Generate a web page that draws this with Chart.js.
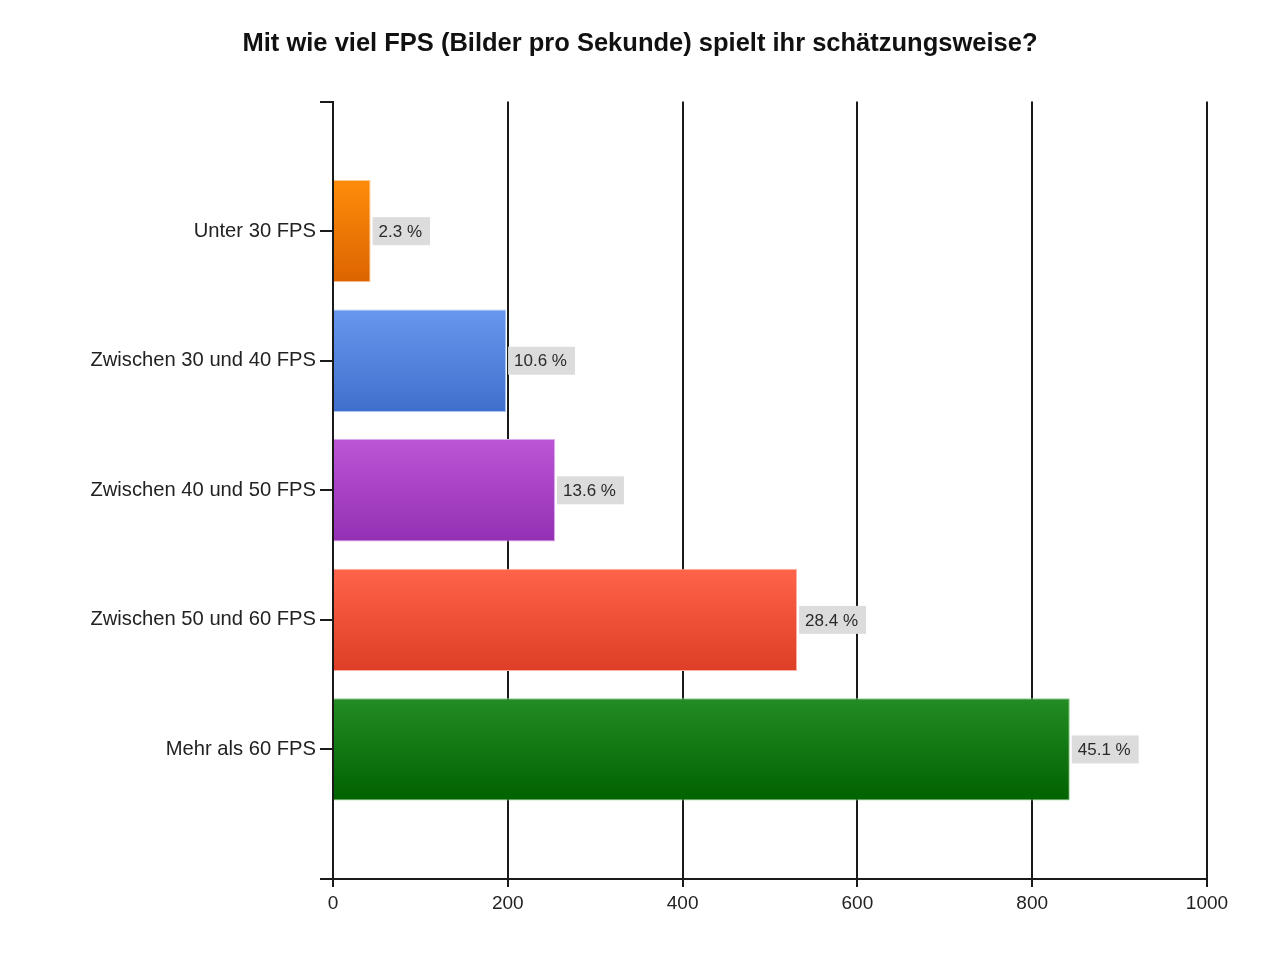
<!DOCTYPE html>
<html>
<head>
<meta charset="utf-8">
<script src="https://cdn.jsdelivr.net/npm/chart.js@4"></script>
<style>
  html, body { margin: 0; padding: 0; background: #fff; }
  #wrap { width: 1280px; height: 960px; }
</style>
</head>
<body>
<div id="wrap"><canvas id="c" width="1280" height="960"></canvas></div>
<script>
const categories = ['', 'Unter 30 FPS', 'Zwischen 30 und 40 FPS', 'Zwischen 40 und 50 FPS', 'Zwischen 50 und 60 FPS', 'Mehr als 60 FPS', ''];
const votes = [null, 43, 198, 254, 531, 843, null];
const topColors = [null, '#FF8C0A', '#6698EE', '#BC55D6', '#FF6349', '#248C24', null];
const bottomColors = [null, '#DC6400', '#3F6FCC', '#9430B4', '#DC3E26', '#006200', null];
const edgeColors = [null, '#FFC890', '#A8C4F6', '#DDA8EC', '#FFB0A0', '#90D090', null];
const xTicks = [0, 200, 400, 600, 800, 1000];

const total = votes.reduce((a, b) => a + (b || 0), 0);

const labelPlugin = {
  id: 'pctLabels',
  afterDatasetsDraw(chart) {
    const ctx = chart.ctx;
    const meta = chart.getDatasetMeta(0);
    ctx.save();
    ctx.font = '17px "Liberation Sans", Arial, sans-serif';
    ctx.textBaseline = 'middle';
    meta.data.forEach((bar, i) => {
      if (votes[i] == null) return;
      const txt = (votes[i] / total * 100).toFixed(1) + ' %';
      const w = ctx.measureText(txt).width;
      const x = bar.x + 2;
      const y = bar.y;
      ctx.fillStyle = '#DCDCDC';
      ctx.fillRect(x, y - 14, w + 14, 28);
      ctx.fillStyle = '#2a2a2a';
      ctx.fillText(txt, x + 6, y + 1);
    });
    ctx.restore();
  }
};

new Chart(document.getElementById('c'), {
  type: 'bar',
  data: {
    labels: categories,
    datasets: [{
      data: votes,
      backgroundColor(context) {
        const i = context.dataIndex;
        const chart = context.chart;
        if (topColors[i] == null) return 'rgba(0,0,0,0)';
        const ys = chart.scales.y;
        if (!ys || !chart.chartArea) return topColors[i];
        const yc = ys.getPixelForValue(i);
        const g = chart.ctx.createLinearGradient(0, yc - 51, 0, yc + 51);
        g.addColorStop(0, topColors[i]);
        g.addColorStop(1, bottomColors[i]);
        return g;
      },
      borderColor: edgeColors,
      borderWidth: 1,
      borderSkipped: 'start',
      barPercentage: 1,
      categoryPercentage: 0.79
    }]
  },
  options: {
    indexAxis: 'y',
    responsive: false,
    animation: false,
    devicePixelRatio: 1,
    layout: { padding: { left: 0, right: 0, top: 0, bottom: 0 } },
    plugins: {
      legend: { display: false },
      tooltip: { enabled: false },
      title: {
        display: true,
        text: 'Mit wie viel FPS (Bilder pro Sekunde) spielt ihr schätzungsweise?',
        color: '#111',
        font: { family: '"Liberation Sans", Arial, sans-serif', size: 25.5, weight: 'bold', lineHeight: 1.2 },
        padding: { top: 29, bottom: 42 }
      }
    },
    scales: {
      x: {
        type: 'linear',
        min: 0,
        max: 1000,
        afterBuildTicks(scale) { scale.ticks = xTicks.map(v => ({ value: v })); },
        afterFit(scale) { scale.height = 81; },
        grid: { color: '#1a1a1a', lineWidth: 2, tickLength: 8, drawTicks: true },
        border: { color: '#1a1a1a', width: 2 },
        ticks: {
          color: '#222',
          padding: 5,
          callback: (v) => String(v),
          font: { family: '"Liberation Sans", Arial, sans-serif', size: 19 }
        }
      },
      y: {
        type: 'category',
        offset: false,
        afterFit(scale) { scale.width = 333; },
        grid: { drawOnChartArea: false, offset: false, color: '#1a1a1a', lineWidth: 2, tickLength: 13, drawTicks: true },
        border: { color: '#1a1a1a', width: 2 },
        ticks: {
          color: '#222',
          padding: 4,
          autoSkip: false,
          font: { family: '"Liberation Sans", Arial, sans-serif', size: 20.2 }
        }
      },
      spacer: {
        type: 'linear',
        position: 'right',
        axis: 'y',
        afterFit(scale) { scale.width = 73; },
        grid: { display: false, drawTicks: false },
        border: { display: false },
        ticks: { display: false }
      }
    }
  },
  plugins: [labelPlugin]
});
</script>
</body>
</html>
